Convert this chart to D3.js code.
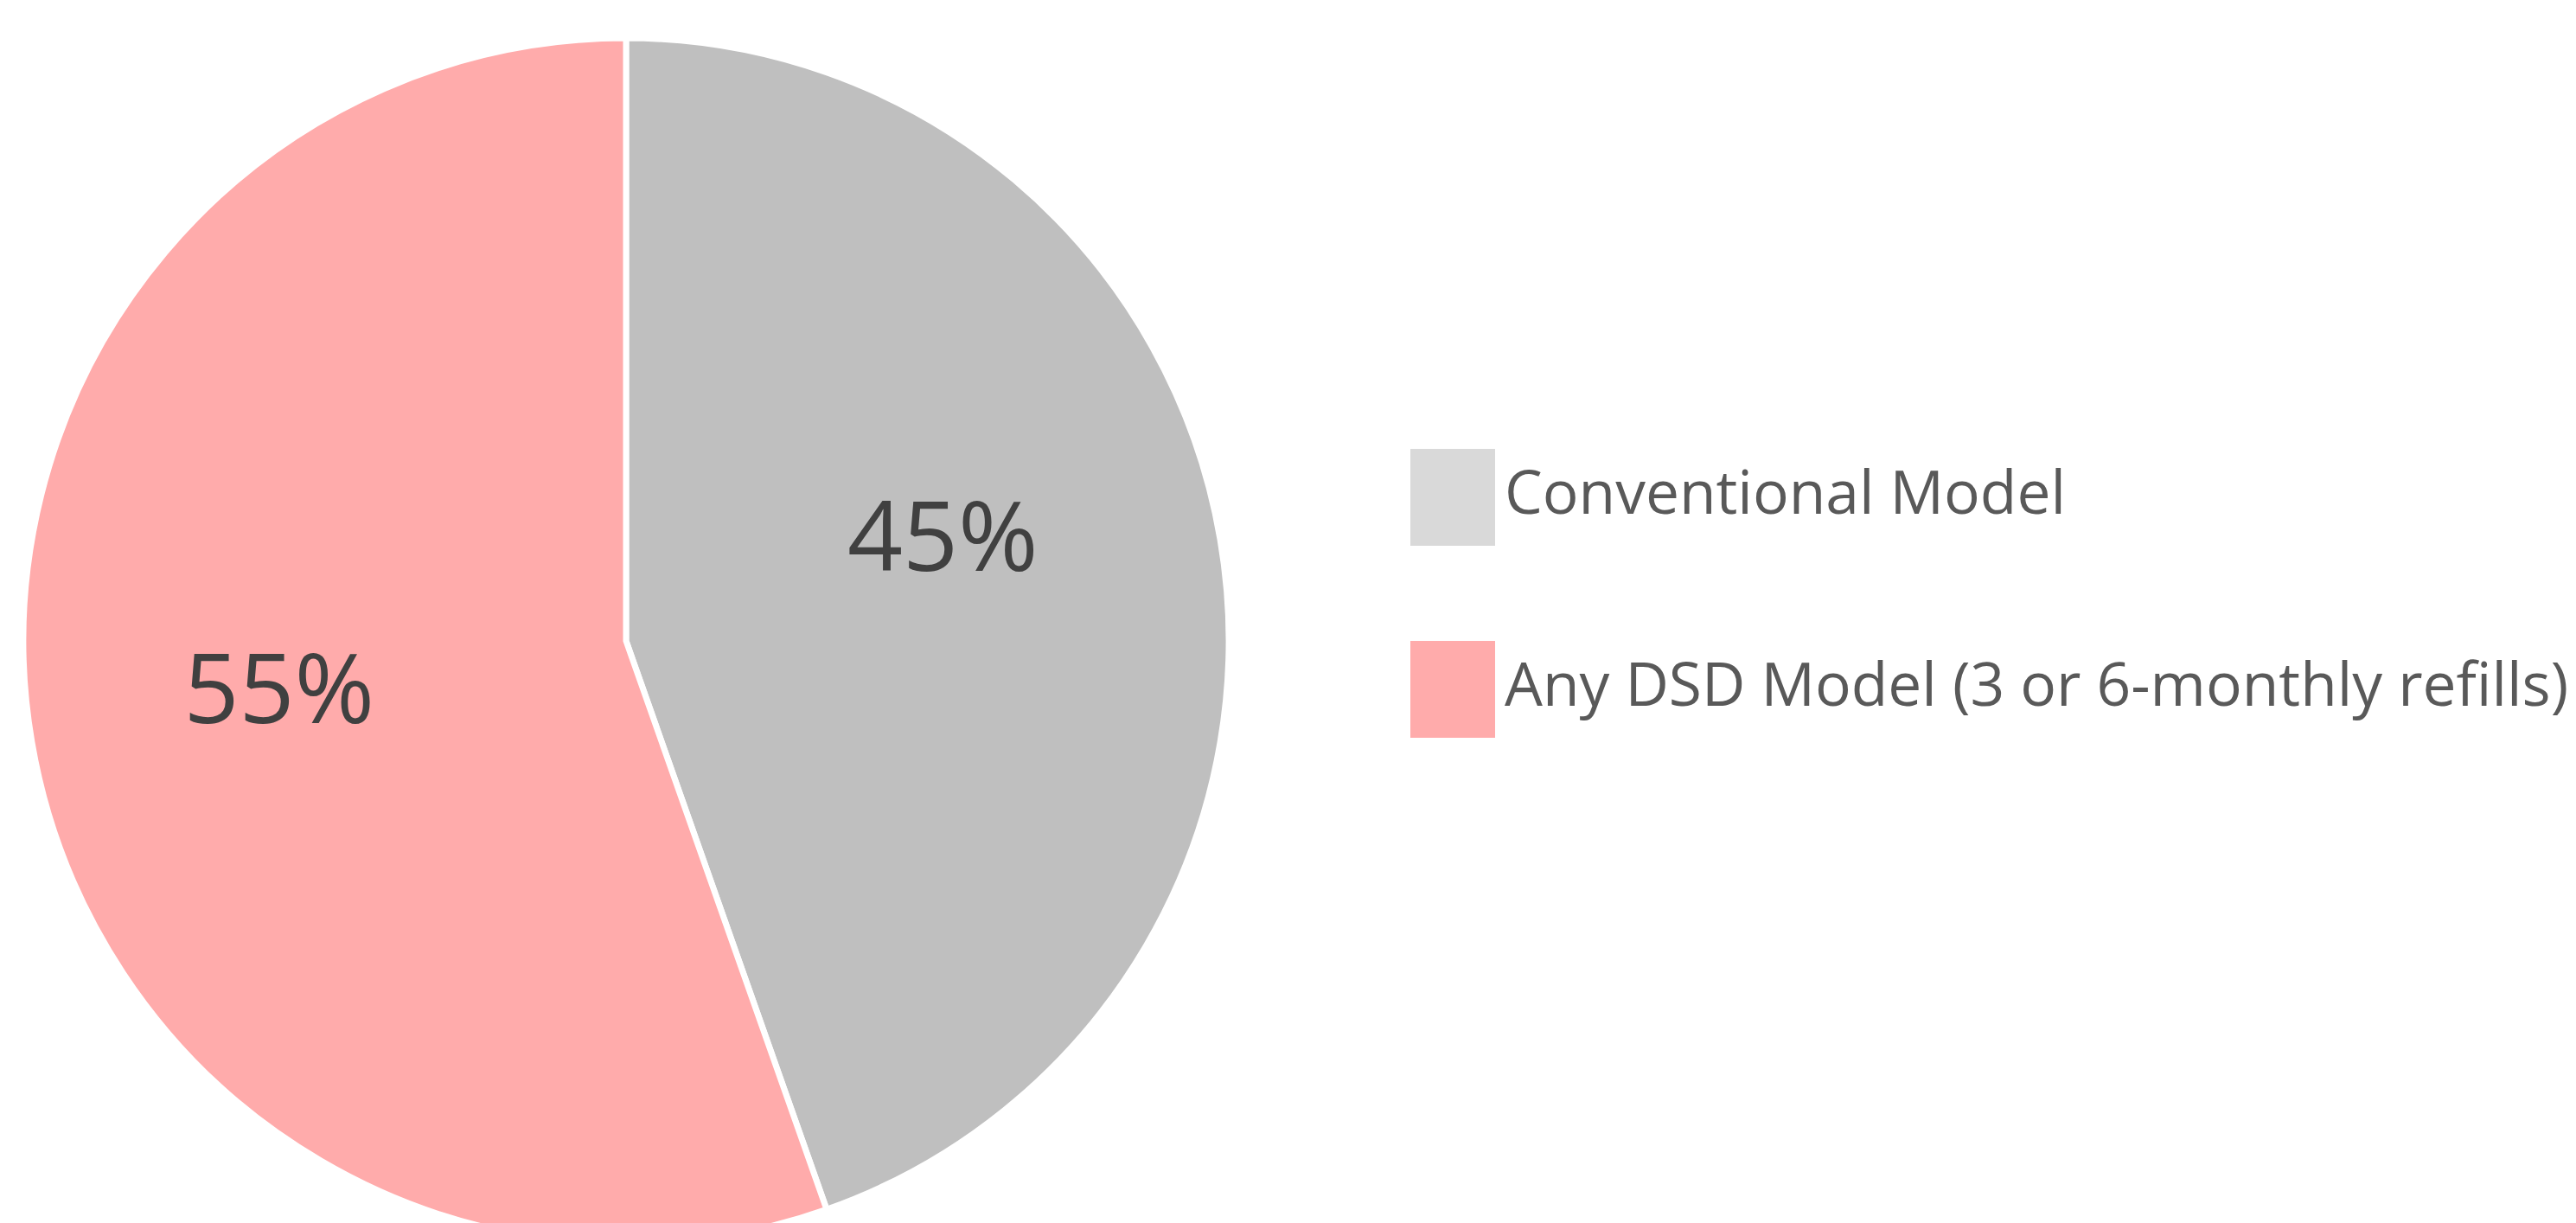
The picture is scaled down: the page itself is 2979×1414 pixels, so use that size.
<!DOCTYPE html>
<html>
<head>
<meta charset="utf-8">
<script src="https://cdn.jsdelivr.net/npm/d3@7"></script>
<style>
  html, body { margin: 0; padding: 0; background: #fff; }
  svg { display: block; }
</style>
</head>
<body>
<svg id="chart"></svg>
<script>
// data
const categories = ["Conventional Model", "Any DSD Model (3 or 6-monthly refills)"];
const shares = [0.446, 0.554];
const labels = ["45%", "55%"];
const sliceColors = ["#bfbfbf", "#ffabab"];
const legendColors = ["#d9d9d9", "#ffabab"];

const width = 2979;
const height = 1414;
const cx = 724;
const cy = 741;
const radius = 697;

const svg = d3.select("#chart")
    .attr("width", width)
    .attr("height", height)
    .attr("viewBox", [0, 0, width, height]);

const pie = d3.pie()
    .sort(null)                 // 保持数据顺序，从12点方向顺时针
    .value(d => d);

const arcs = pie(shares);

const arc = d3.arc()
    .innerRadius(0)
    .outerRadius(radius);

const labelArc = d3.arc()       // 标签所在的环
    .innerRadius(400)
    .outerRadius(400);

const g = svg.append("g")
    .attr("transform", `translate(${cx},${cy})`);

g.selectAll("path")
    .data(arcs)
    .join("path")
    .attr("d", arc)
    .attr("fill", (d, i) => sliceColors[i])
    .attr("stroke", "#fff")
    .attr("stroke-width", 7)
    .attr("stroke-linejoin", "miter");

// Excel 的标签位置略有偏移
const nudge = [[-28, -54], [-7, -13]];
g.selectAll("text.pct")
    .data(arcs)
    .join("text")
    .attr("class", "pct")
    .attr("x", (d, i) => labelArc.centroid(d)[0] + nudge[i][0])
    .attr("y", (d, i) => labelArc.centroid(d)[1] + nudge[i][1])
    .attr("dy", "0.36em")
    .attr("text-anchor", "middle")
    .attr("font-family", "'Open Sans', sans-serif")
    .attr("font-size", 112)
    .attr("fill", "#404040")
    .text((d, i) => labels[i]);

// 图例
const legendX = 1631;
const legendY = 519;
const legendSpacing = 222;

const legend = svg.append("g")
    .selectAll("g")
    .data(categories)
    .join("g")
    .attr("transform", (d, i) => `translate(${legendX},${legendY + i * legendSpacing})`);

legend.append("rect")
    .attr("width", 98)
    .attr("height", 112)
    .attr("fill", (d, i) => legendColors[i]);

legend.append("text")
    .attr("x", 109)
    .attr("y", 75)
    .attr("font-family", "'Open Sans', sans-serif")
    .attr("font-size", 69.5)
    .attr("fill", "#595959")
    .text(d => d);
</script>
</body>
</html>
